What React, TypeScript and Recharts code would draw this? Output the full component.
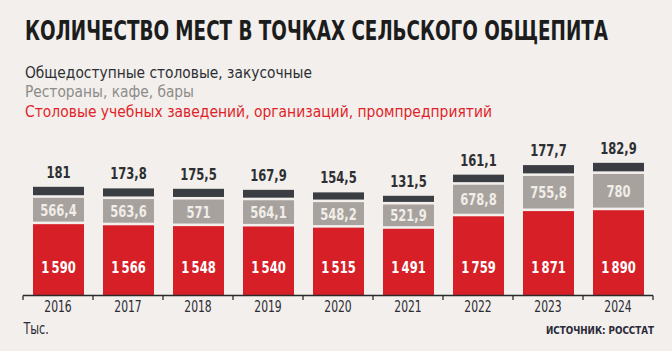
import React from 'react';
import { BarChart, Bar, XAxis, YAxis, LabelList } from 'recharts';

const years = ['2016', '2017', '2018', '2019', '2020', '2021', '2022', '2023', '2024'];
const institutionCanteens = [1590, 1566, 1548, 1540, 1515, 1491, 1759, 1871, 1890];
const restaurants = [566.4, 563.6, 571, 564.1, 548.2, 521.9, 678.8, 755.8, 780];
const publicCanteens = [181, 173.8, 175.5, 167.9, 154.5, 131.5, 161.1, 177.7, 182.9];

const title = 'КОЛИЧЕСТВО МЕСТ В ТОЧКАХ СЕЛЬСКОГО ОБЩЕПИТА';
const legendPublic = 'Общедоступные столовые, закусочные';
const legendRest = 'Рестораны, кафе, бары';
const legendInst = 'Столовые учебных заведений, организаций, промпредприятий';
const unitLabel = 'Тыс.';
const sourceLabel = 'ИСТОЧНИК: РОССТАТ';

const data = years.map((y, i) => ({
  year: y,
  inst: institutionCanteens[i],
  rest: restaurants[i],
  pub: publicCanteens[i],
}));

const W = 672;
const H = 351;
const ML = 23;
const MR = 19;
const MT = 156;
const AXIS_Y = 295.5;
const XAXIS_H = 30;
const MB = H - AXIS_Y - XAXIS_H;
const HALF_BAND = (W - ML - MR) / years.length / 2;
const GAP = 2.6;
const SQ = 0.78;

const BG = '#f2efec';
const RED = '#d71f27';
const GRAY = '#a7a29e';
const DARK = '#3a3d41';
const FONT = '"DejaVu Sans Condensed", "DejaVu Sans", sans-serif';

const fmt = (v: number) => {
  if (v >= 1000) {
    const s = String(Math.round(v));
    return s.slice(0, s.length - 3) + '\u2009' + s.slice(s.length - 3);
  }
  return String(v).replace('.', ',');
};

const NarrowText = (props: any) => {
  const { x, y, anchor = 'middle', size, weight = 'normal', fill, children, sq = SQ } = props;
  return (
    <text
      transform={`translate(${x},${y}) scale(${sq},1)`}
      x={0}
      y={0}
      textAnchor={anchor}
      fontFamily={FONT}
      fontWeight={weight}
      fontSize={size}
      fill={fill}
    >
      {children}
    </text>
  );
};

const GapRect = (props: any) => {
  const { x, y, width, height, fill } = props;
  const h = Math.max(0, height - GAP);
  return <rect x={x} y={y + GAP} width={width} height={h} fill={fill} />;
};

const PlainRect = (props: any) => {
  const { x, y, width, height, fill } = props;
  return <rect x={x} y={y} width={width} height={height} fill={fill} />;
};

const YearTick = (props: any) => {
  const { x, y, payload, index } = props;
  const last = index === years.length - 1;
  return (
    <g>
      <line x1={x - HALF_BAND} x2={x - HALF_BAND} y1={y} y2={y + 4.5} stroke="#2a2a2a" strokeWidth={1.3} />
      {last && <line x1={x + HALF_BAND} x2={x + HALF_BAND} y1={y} y2={y + 4.5} stroke="#2a2a2a" strokeWidth={1.3} />}
      <NarrowText x={x} y={y + 16.2} size={15} fill="#2b2b33" sq={0.8}>
        {payload.value}
      </NarrowText>
    </g>
  );
};

const redLabel = (p: any) => (
  <NarrowText x={p.x + p.width / 2} y={p.y + p.height - 22.8} size={16.5} weight="bold" fill="#ffffff">
    {fmt(Number(p.value))}
  </NarrowText>
);

const grayLabel = (p: any) => (
  <NarrowText x={p.x + p.width / 2} y={p.y + GAP + (p.height - GAP) / 2 + 6} size={16.5} weight="bold" fill="#f1ede8">
    {fmt(Number(p.value))}
  </NarrowText>
);

const darkLabel = (p: any) => (
  <NarrowText x={p.x + p.width / 2} y={p.y - 9} size={16.5} weight="bold" fill="#2e2f33">
    {fmt(Number(p.value))}
  </NarrowText>
);

export default function App() {
  return (
    <div style={{ position: 'absolute', left: 0, top: 0, width: W, height: H, background: BG, overflow: 'hidden' }}>
      <BarChart width={W} height={H} data={data} margin={{ top: MT, right: MR, left: ML, bottom: MB }} barSize={51}>
        <YAxis hide domain={[0, 3000]} />
        <XAxis
          dataKey="year"
          height={XAXIS_H}
          axisLine={{ stroke: '#2a2a2a', strokeWidth: 1.3 }}
          tickLine={false}
          tickSize={0}
          tickMargin={0}
          interval={0}
          tick={<YearTick />}
        />
        <Bar dataKey="inst" stackId="a" fill={RED} shape={<GapRect />} isAnimationActive={false}>
          <LabelList dataKey="inst" content={redLabel} />
        </Bar>
        <Bar dataKey="rest" stackId="a" fill={GRAY} shape={<GapRect />} isAnimationActive={false}>
          <LabelList dataKey="rest" content={grayLabel} />
        </Bar>
        <Bar dataKey="pub" stackId="a" fill={DARK} shape={<PlainRect />} isAnimationActive={false}>
          <LabelList dataKey="pub" content={darkLabel} />
        </Bar>
      </BarChart>
      <svg width={W} height={H} style={{ position: 'absolute', left: 0, top: 0, pointerEvents: 'none' }}>
        <text x={25} y={40} fontFamily={FONT} fontWeight="bold" fontSize={26} fill="#1c1c1c" textLength={583} lengthAdjust="spacingAndGlyphs">
          {title}
        </text>
        <text x={25} y={78.3} fontFamily={FONT} fontSize={15.5} fill="#2e2f33" textLength={287} lengthAdjust="spacingAndGlyphs">
          {legendPublic}
        </text>
        <text x={25} y={97.3} fontFamily={FONT} fontSize={15.5} fill="#8d8b89" textLength={169} lengthAdjust="spacingAndGlyphs">
          {legendRest}
        </text>
        <text x={25} y={117.3} fontFamily={FONT} fontSize={15.5} fill="#e11f2a" textLength={467} lengthAdjust="spacingAndGlyphs">
          {legendInst}
        </text>
        <NarrowText x={23.5} y={334.3} anchor="start" size={15.5} fill="#2b2b33" sq={0.8}>
          {unitLabel}
        </NarrowText>
        <text x={546} y={334} fontFamily={FONT} fontWeight="bold" fontSize={11} fill="#2a2a38" textLength={108} lengthAdjust="spacingAndGlyphs">
          {sourceLabel}
        </text>
      </svg>
    </div>
  );
}
